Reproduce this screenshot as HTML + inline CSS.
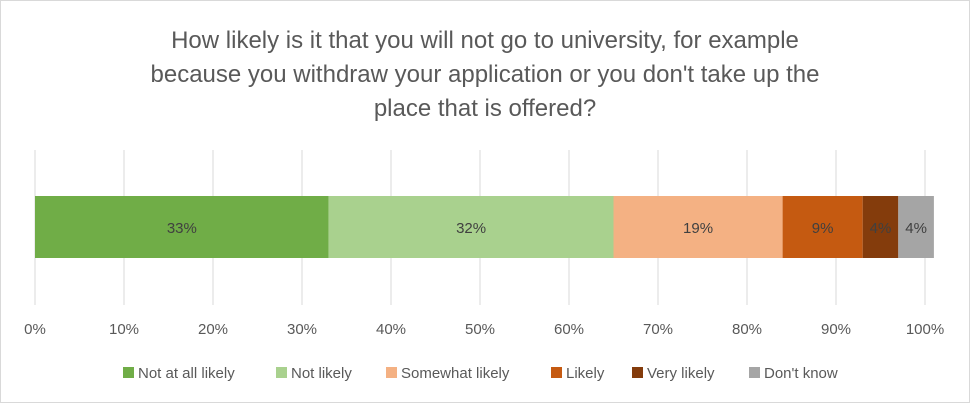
<!DOCTYPE html>
<html><head><meta charset="utf-8"><style>
body{margin:0;background:#fff;}
svg{display:block;font-family:"Liberation Sans",sans-serif;}
</style></head><body>
<svg width="970" height="403" viewBox="0 0 970 403">
<rect x="0.5" y="0.5" width="969" height="402" fill="#fff" stroke="#d9d9d9"/>
<g fill="#595959" font-size="24" text-anchor="middle">
<text x="485" y="48">How likely is it that you will not go to university, for example</text>
<text x="485" y="82">because you withdraw your application or you don't take up the</text>
<text x="485" y="116">place that is offered?</text>
</g>
<g id="grid"></g>
<g id="bars"></g>
<g id="ticks"></g>
<g id="legend"></g>
</svg>
<script>
const categories=["Not at all likely","Not likely","Somewhat likely","Likely","Very likely","Don't know"];
const values=[33,32,19,9,4,4];
const tickValues=[0,10,20,30,40,50,60,70,80,90,100];
const colors=["#70AD47","#A9D18E","#F4B183","#C55A11","#843C0C","#A5A5A5"];
const NS="http://www.w3.org/2000/svg";
const x0=35,x1=925;
function xs(v){return x0+(x1-x0)*v/100;}
function mk(tag,attrs,parent){const e=document.createElementNS(NS,tag);for(const k in attrs)e.setAttribute(k,attrs[k]);parent.appendChild(e);return e;}
const grid=document.getElementById('grid'),ticks=document.getElementById('ticks'),bars=document.getElementById('bars'),legend=document.getElementById('legend');
tickValues.forEach(t=>{
 const l=mk('line',{x1:xs(t),x2:xs(t),y1:150,y2:305,stroke:'#d9d9d9','stroke-width':1},grid);
 
 
 const tx=mk('text',{x:xs(t),y:334,'text-anchor':'middle','font-size':15,fill:'#595959'},ticks);
 tx.textContent=t+'%';
 
 
});
let cum=0;
values.forEach((v,i)=>{
 const r=mk('rect',{x:xs(cum),y:196,width:xs(cum+v)-xs(cum),height:62,fill:colors[i]},bars);
 
 
 const t=mk('text',{x:(xs(cum)+xs(cum+v))/2,y:233,'text-anchor':'middle','font-size':15,fill:'#404040'},bars);
 t.textContent=v+'%';
 
 
 cum+=v;
});
const legX=[123,276,386,551,632,749];
categories.forEach((c,i)=>{
 const g=mk('g',{},legend);
 
 
 mk('rect',{x:legX[i],y:367,width:11,height:11,fill:colors[i]},g);
 const t=mk('text',{x:legX[i]+15,y:378,'font-size':15,fill:'#595959'},g);
 t.textContent=c;
});
</script>
</body></html>
